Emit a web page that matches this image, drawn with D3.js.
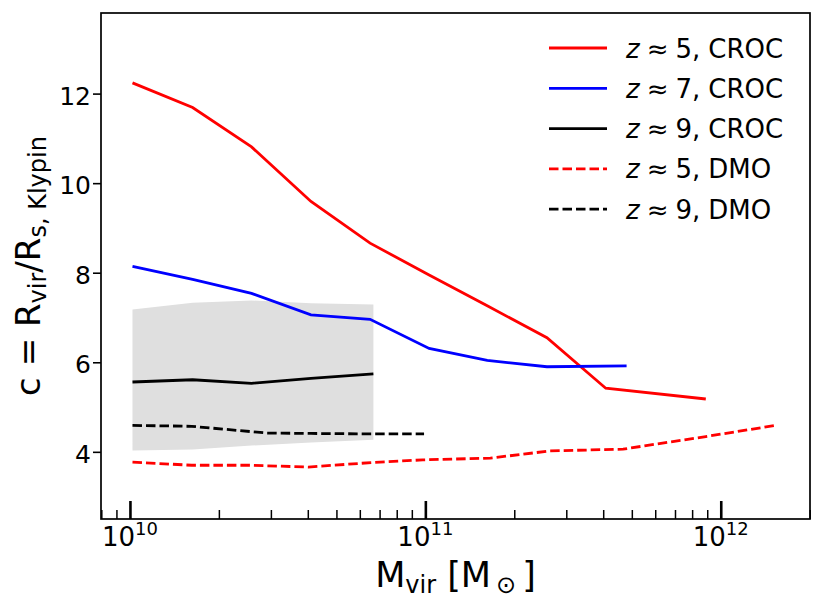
<!DOCTYPE html>
<html>
<head>
<meta charset="utf-8">
<script src="https://d3js.org/d3.v7.min.js"></script>
<style>
  body { margin: 0; background: #fff; }
  svg { font-family: "DejaVu Sans", sans-serif; }
</style>
</head>
<body>
<svg id="chart"></svg>
<script>
    // halo mass bins [Msun] and concentrations
    var massZ5Croc = [1.02e10, 1.63e10, 2.58e10, 4.1e10, 6.5e10, 1.03e11, 1.62e11, 2.58e11, 4.08e11, 8.9e11];
    var concZ5Croc = [12.24, 11.69, 10.81, 9.59, 8.66, 7.95, 7.26, 6.55, 5.42, 5.18];

    var massZ7Croc = [1.02e10, 1.63e10, 2.58e10, 4.1e10, 6.5e10, 1.03e11, 1.62e11, 2.58e11, 4.8e11];
    var concZ7Croc = [8.14, 7.85, 7.54, 7.06, 6.96, 6.31, 6.04, 5.90, 5.92];

    var massZ9Croc = [1.02e10, 1.63e10, 2.58e10, 4.1e10, 6.67e10];
    var concZ9Croc = [5.56, 5.61, 5.53, 5.64, 5.74];
    var bandZ9Upper = [7.18, 7.33, 7.38, 7.32, 7.29];
    var bandZ9Lower = [4.03, 4.05, 4.14, 4.21, 4.27];

    var massZ5Dmo = [1.02e10, 1.62e10, 2.57e10, 4.01e10, 6.55e10, 9.8e10, 1.66e11, 2.64e11, 4.67e11, 8.9e11, 1.56e12];
    var concZ5Dmo = [3.77, 3.70, 3.70, 3.66, 3.76, 3.82, 3.86, 4.02, 4.06, 4.34, 4.60];

    var massZ9Dmo = [1.02e10, 1.62e10, 2.9e10, 4.1e10, 6.5e10, 9.9e10];
    var concZ9Dmo = [4.59, 4.57, 4.42, 4.41, 4.40, 4.40];

    var yTicks = [4, 6, 8, 10, 12];
    var xMajor = [1e10, 1e11, 1e12];
    var xMajorExp = ["10", "11", "12"];

    var legendZ = ["5", "7", "9", "5", "9"];
    var legendRun = ["CROC", "CROC", "CROC", "DMO", "DMO"];

    // layout
    var width = 823, height = 610;
    var margin = {top: 13, right: 13, bottom: 91, left: 101};
    var iw = width - margin.left - margin.right;
    var ih = height - margin.top - margin.bottom;

    var svg = d3.select('#chart')
        .attr('width', width)
        .attr('height', height);

    var g = svg.append('g')
        .attr('transform', 'translate(' + margin.left + ',' + margin.top + ')');

    var x = d3.scaleLog().domain([7.98e9, 2.005e12]).range([0, iw]);
    var y = d3.scaleLinear().domain([2.5, 13.8]).range([ih, 0]);

    var zip = function (xs, ys) { return xs.map(function (d, i) { return [d, ys[i]]; }); };

    var line = d3.line()
        .x(function (d) { return x(d[0]); })
        .y(function (d) { return y(d[1]); });

    // shaded scatter band for z~9 CROC
    var area = d3.area()
        .x(function (d) { return x(d[0]); })
        .y0(function (d) { return y(d[2]); })
        .y1(function (d) { return y(d[1]); });

    g.append('path')
        .datum(massZ9Croc.map(function (m, i) { return [m, bandZ9Upper[i], bandZ9Lower[i]]; }))
        .attr('d', area)
        .attr('fill', '#dfdfdf');

    var series = [
        {pts: zip(massZ5Croc, concZ5Croc), color: '#ff0000', dash: null},
        {pts: zip(massZ7Croc, concZ7Croc), color: '#0000ff', dash: null},
        {pts: zip(massZ9Croc, concZ9Croc), color: '#000000', dash: null},
        {pts: zip(massZ5Dmo, concZ5Dmo), color: '#ff0000', dash: '9.5,4'},
        {pts: zip(massZ9Dmo, concZ9Dmo), color: '#000000', dash: '9.5,4'}
    ];

    g.selectAll('path.series')
        .data(series)
        .enter().append('path')
        .attr('class', 'series')
        .attr('d', function (d) { return line(d.pts); })
        .attr('fill', 'none')
        .attr('stroke', function (d) { return d.color; })
        .attr('stroke-width', 2.8)
        .attr('stroke-dasharray', function (d) { return d.dash; });

    // y axis: outward ticks on the left
    var yAxis = g.append('g')
        .call(d3.axisLeft(y).tickValues(yTicks).tickSize(8).tickPadding(2).tickFormat(d3.format('d')));
    yAxis.select('.domain').remove();
    yAxis.selectAll('.tick line').attr('stroke-width', 1.6);
    yAxis.selectAll('.tick text')
        .attr('font-size', 25)
        .attr('font-family', 'DejaVu Sans')
        .attr('fill', '#000')
        .attr('dy', '0.42em');

    // x axis: inward ticks, long majors and short minors
    var minor = [];
    for (var e = 9; e <= 12; e++) {
        for (var k = 2; k <= 9; k++) {
            var v = k * Math.pow(10, e);
            if (v >= x.domain()[0] && v <= x.domain()[1]) minor.push(v);
        }
    }
    var xAxisMinor = g.append('g')
        .attr('transform', 'translate(0,' + ih + ')')
        .call(d3.axisTop(x).tickValues(minor).tickSize(9).tickFormat(''));
    xAxisMinor.select('.domain').remove();
    xAxisMinor.selectAll('.tick line').attr('stroke-width', 1.5);

    var xAxisMajor = g.append('g')
        .attr('transform', 'translate(0,' + ih + ')')
        .call(d3.axisTop(x).tickValues(xMajor).tickSize(18).tickFormat(''));
    xAxisMajor.select('.domain').remove();
    xAxisMajor.selectAll('.tick line').attr('stroke-width', 2.6);

    var xLab = g.selectAll('text.xtick')
        .data(xMajor)
        .enter().append('text')
        .attr('class', 'xtick')
        .attr('x', function (d) { return x(d); })
        .attr('y', ih + 27)
        .attr('text-anchor', 'middle')
        .attr('font-size', 26);
    xLab.append('tspan').text('10');
    xLab.append('tspan')
        .attr('dy', -11)
        .attr('font-size', 18)
        .text(function (d, i) { return xMajorExp[i]; });

    // frame
    g.append('rect')
        .attr('width', iw)
        .attr('height', ih)
        .attr('fill', 'none')
        .attr('stroke', '#000')
        .attr('stroke-width', 1.7);

    // axis titles
    var xt = svg.append('text')
        .attr('x', margin.left + iw / 2)
        .attr('y', 587)
        .attr('text-anchor', 'middle')
        .attr('font-size', 35);
    xt.append('tspan').text('M');
    xt.append('tspan').attr('font-size', 24).attr('dy', 6).text('vir');
    xt.append('tspan').attr('dy', -6).text(' [M');
    xt.append('tspan').attr('font-size', 24).attr('dy', 6).attr('dx', 5).text('\u2299');
    xt.append('tspan').attr('dy', -6).attr('dx', 6).text(']');

    var yt = svg.append('text')
        .attr('transform', 'translate(40,' + (margin.top + ih / 2) + ') rotate(-90)')
        .attr('text-anchor', 'middle')
        .attr('font-size', 34);
    yt.append('tspan').text('c = R');
    yt.append('tspan').attr('font-size', 24).attr('dy', 6).text('vir');
    yt.append('tspan').attr('dy', -6).text('/R');
    yt.append('tspan').attr('font-size', 24).attr('dy', 6).text('s, Klypin');

    // legend
    var leg = svg.append('g').attr('transform', 'translate(549,48)');
    var rows = leg.selectAll('g')
        .data(series)
        .enter().append('g')
        .attr('transform', function (d, i) { return 'translate(0,' + (i * 40.3) + ')'; });
    rows.append('line')
        .attr('x1', 0).attr('x2', 58)
        .attr('stroke', function (d) { return d.color; })
        .attr('stroke-width', 2.8)
        .attr('stroke-dasharray', function (d) { return d.dash; });
    var lt = rows.append('text')
        .attr('x', 77)
        .attr('y', 9.5)
        .attr('font-size', 26);
    lt.append('tspan').attr('font-style', 'italic').text('z');
    lt.append('tspan').attr('dx', 7).text('\u2248');
    lt.append('tspan').attr('dx', 7).text(function (d, i) { return legendZ[i] + ','; });
    lt.append('tspan').attr('dx', 8).text(function (d, i) { return legendRun[i]; });
</script>
</body>
</html>
